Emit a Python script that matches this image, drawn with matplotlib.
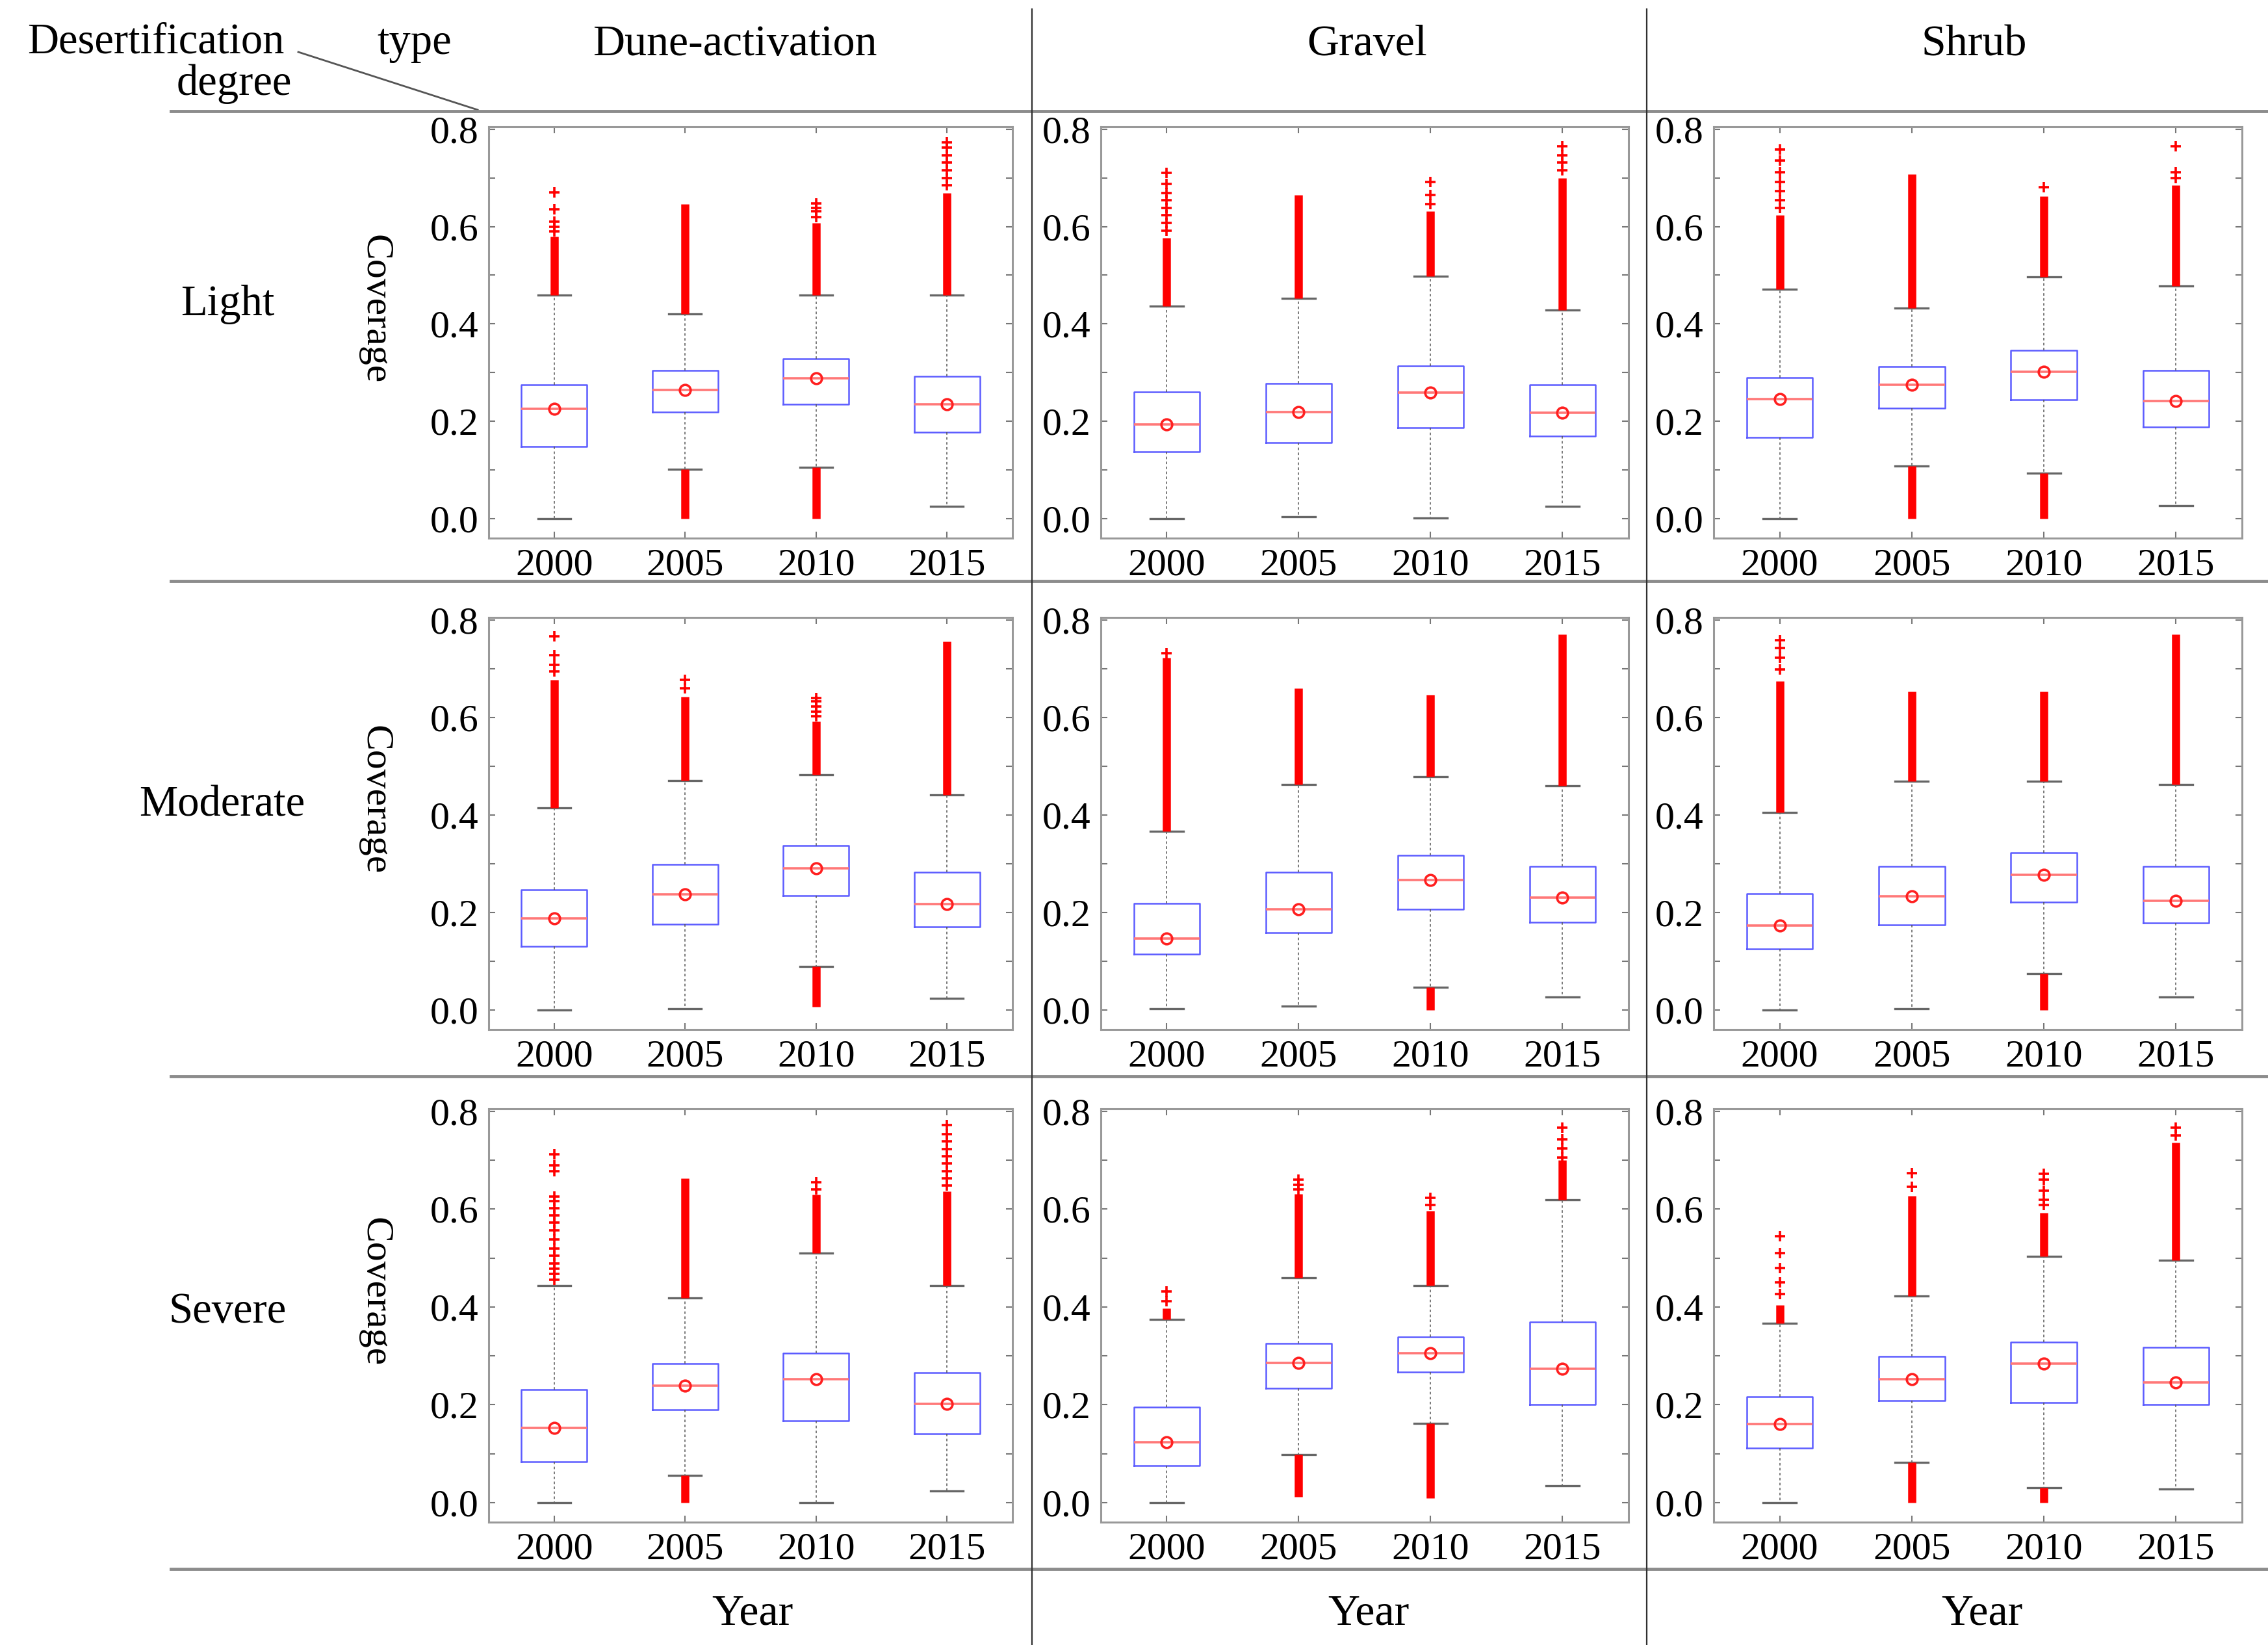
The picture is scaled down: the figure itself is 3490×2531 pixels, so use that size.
import matplotlib
matplotlib.use('Agg')
import matplotlib.pyplot as plt
from matplotlib.lines import Line2D

plt.rcParams['font.family'] = ['Liberation Serif', 'DejaVu Serif']

W, H = 3491, 2531

types = ['Dune-activation', 'Gravel', 'Shrub']
degrees = ['Light', 'Moderate', 'Severe']
years = ['2000', '2005', '2010', '2015']

# every table below is [degree][type][year]
q1 = [
    [[0.148, 0.219, 0.235, 0.177], [0.137, 0.156, 0.187, 0.169], [0.167, 0.227, 0.244, 0.188]],
    [[0.131, 0.176, 0.235, 0.171], [0.115, 0.159, 0.207, 0.180], [0.125, 0.174, 0.221, 0.178]],
    [[0.083, 0.190, 0.167, 0.141], [0.075, 0.234, 0.267, 0.200], [0.111, 0.209, 0.205, 0.200]],
]
q3 = [
    [[0.275, 0.304, 0.328, 0.292], [0.260, 0.278, 0.314, 0.275], [0.290, 0.312, 0.346, 0.305]],
    [[0.246, 0.298, 0.337, 0.282], [0.219, 0.282, 0.317, 0.295], [0.239, 0.295, 0.323, 0.295]],
    [[0.231, 0.284, 0.306, 0.266], [0.195, 0.326, 0.339, 0.369], [0.216, 0.299, 0.328, 0.318]],
]
med = [
    [[0.225, 0.265, 0.288, 0.235], [0.194, 0.219, 0.259, 0.218], [0.246, 0.275, 0.302, 0.241]],
    [[0.188, 0.237, 0.291, 0.217], [0.147, 0.207, 0.267, 0.231], [0.173, 0.233, 0.277, 0.224]],
    [[0.152, 0.239, 0.252, 0.202], [0.124, 0.285, 0.306, 0.273], [0.160, 0.252, 0.284, 0.246]],
]
# the mean markers sit on the median lines
mean = med
whislo = [
    [[0.000, 0.102, 0.105, 0.025], [0.000, 0.004, 0.002, 0.025], [0.000, 0.108, 0.094, 0.027]],
    [[0.000, 0.003, 0.089, 0.024], [0.003, 0.008, 0.047, 0.027], [0.000, 0.003, 0.075, 0.026]],
    [[0.000, 0.056, 0.000, 0.024], [0.000, 0.098, 0.162, 0.034], [0.000, 0.082, 0.030, 0.028]],
]
whishi = [
    [[0.459, 0.421, 0.459, 0.459], [0.436, 0.452, 0.498, 0.429], [0.471, 0.433, 0.496, 0.478]],
    [[0.414, 0.471, 0.482, 0.441], [0.366, 0.463, 0.479, 0.460], [0.405, 0.469, 0.469, 0.463]],
    [[0.444, 0.418, 0.510, 0.444], [0.374, 0.460, 0.444, 0.619], [0.367, 0.423, 0.504, 0.495]],
]
# top of the solid run of outliers above the upper whisker (None = no solid run)
dense_top = [
    [[0.580, 0.646, 0.608, 0.669], [0.577, 0.665, 0.631, 0.700], [0.623, 0.708, 0.662, 0.685]],
    [[0.677, 0.643, 0.592, 0.756], [0.722, 0.660, 0.646, 0.770], [0.674, 0.653, 0.653, 0.770]],
    [[None, 0.663, 0.629, 0.636], [0.397, 0.631, 0.596, 0.700], [0.404, 0.627, 0.593, 0.736]],
]
# bottom of the solid run of outliers below the lower whisker (None = none)
dense_bottom = [
    [[None, 0.000, 0.000, None], [None, None, None, None], [None, 0.000, 0.000, None]],
    [[None, None, 0.006, None], [None, None, 0.000, None], [None, None, 0.000, None]],
    [[None, 0.000, None, None], [None, 0.012, 0.009, None], [None, 0.000, 0.000, None]],
]
# separate outliers above the solid run
sparse_fliers = [
    [
        [[0.59, 0.60, 0.61, 0.635, 0.67], [], [0.619, 0.631, 0.638, 0.648],
         [0.685, 0.70, 0.715, 0.731, 0.746, 0.762, 0.773]],
        [[0.592, 0.608, 0.623, 0.638, 0.654, 0.669, 0.688, 0.71], [], [0.646, 0.665, 0.692],
         [0.715, 0.731, 0.746, 0.765]],
        [[0.638, 0.654, 0.673, 0.692, 0.712, 0.735, 0.758], [], [0.681], [0.70, 0.712, 0.765]],
    ],
    [
        [[0.694, 0.708, 0.728, 0.767], [0.66, 0.677], [0.602, 0.612, 0.622, 0.633, 0.64], []],
        [[0.732], [], [], []],
        [[0.698, 0.722, 0.742, 0.759], [], [], []],
    ],
    [
        [[0.456, 0.467, 0.478, 0.489, 0.505, 0.52, 0.538, 0.557, 0.572, 0.587, 0.602, 0.617,
          0.625, 0.678, 0.689, 0.712], [], [0.64, 0.655],
         [0.648, 0.663, 0.678, 0.693, 0.708, 0.723, 0.738, 0.753, 0.772]],
        [[0.412, 0.431], [0.64, 0.65, 0.66], [0.608, 0.623], [0.706, 0.724, 0.743, 0.766]],
        [[0.427, 0.45, 0.48, 0.51, 0.544], [0.645, 0.673], [0.608, 0.619, 0.638, 0.66, 0.672],
         [0.751, 0.766]],
    ],
]

# layout in pixels of the output image
col_lr = [(752, 1558), (1694, 2506), (2637, 3450)]
row_tb = [(195, 828), (950, 1584), (1706, 2342)]

RED = '#ff0000'


def fx(px):
    return px / W


def fy(py):
    return 1 - py / H


fig = plt.figure(figsize=(W / 100, H / 100), dpi=100)

positions = [1, 2, 3, 4]
for r in range(3):
    for c in range(3):
        l, rr = col_lr[c]
        t, b = row_tb[r]
        ax = fig.add_axes([fx(l), fy(b), (rr - l) / W, (b - t) / H])
        stats = []
        for k in range(4):
            stats.append(dict(med=med[r][c][k], q1=q1[r][c][k], q3=q3[r][c][k],
                              whislo=whislo[r][c][k], whishi=whishi[r][c][k],
                              mean=mean[r][c][k], fliers=sparse_fliers[r][c][k]))
        ax.bxp(stats, positions=positions, widths=0.5, showmeans=True,
               boxprops=dict(color='#5c5cff', lw=1.8),
               medianprops=dict(color='#ff7878', lw=2.6),
               meanprops=dict(marker='o', ms=12, mfc='none', mec='#ff2020', mew=2.6),
               whiskerprops=dict(color='#555555', lw=1.1, ls=(0, (2.5, 2.5))),
               capprops=dict(color='#666666', lw=2.4),
               flierprops=dict(marker='+', ms=11, mec=RED, mew=2.6))
        for k, x in enumerate(positions):
            if dense_top[r][c][k] is not None:
                ax.vlines(x, whishi[r][c][k], dense_top[r][c][k], color=RED, lw=9)
            if dense_bottom[r][c][k] is not None:
                ax.vlines(x, dense_bottom[r][c][k], whislo[r][c][k], color=RED, lw=9)

        ax.set_xlim(0.5, 4.5)
        ax.set_ylim(-0.04, 0.805)
        ax.set_xticks(positions, years)
        ax.set_yticks([0.0, 0.2, 0.4, 0.6, 0.8], ['0.0', '0.2', '0.4', '0.6', '0.8'])
        ax.set_yticks([0.1, 0.3, 0.5, 0.7], minor=True)
        ax.tick_params(axis='both', which='both', direction='in', color='#777777',
                       width=1.5, labelsize=43, pad=11)
        ax.tick_params(axis='both', which='major', length=7)
        ax.tick_params(axis='y', which='minor', length=7)
        ax.tick_params(top=True, right=True, which='both')
        for s in ax.spines.values():
            s.set_color('#999999')
            s.set_linewidth(2.2)

        if c == 0:
            fig.text(fx(577), fy((t + b) / 2 - 36), 'Coverage', rotation=270,
                     ha='center', va='center', fontsize=43)

# row labels
row_label_xy = [(350, 485), (342, 1255), (350, 2035)]
for name, (x, y) in zip(degrees, row_label_xy):
    fig.text(fx(x), fy(y), name, ha='center', va='baseline', fontsize=48)

# column headers and bottom axis names
header_x = [1131, 2104, 3038]
year_x = [1158, 2106, 3050]
for name, x in zip(types, header_x):
    fig.text(fx(x), fy(85), name, ha='center', va='baseline', fontsize=49)
for x in year_x:
    fig.text(fx(x), fy(2500), 'Year', ha='center', va='baseline', fontsize=49)

# corner cell
fig.text(fx(240), fy(82), 'Desertification', ha='center', va='baseline', fontsize=48)
fig.text(fx(360), fy(146), 'degree', ha='center', va='baseline', fontsize=48)
fig.text(fx(638), fy(83), 'type', ha='center', va='baseline', fontsize=48)
fig.add_artist(Line2D([fx(459), fx(735)], [fy(80), fy(169)], transform=fig.transFigure,
                      color='#555555', lw=2))

# table rules
for y in [171, 894, 1656, 2414]:
    fig.add_artist(Line2D([fx(263), fx(3491)], [fy(y), fy(y)], transform=fig.transFigure,
                          color='#8c8c8c', lw=3.5))
for x in [1588, 2534]:
    fig.add_artist(Line2D([fx(x), fx(x)], [fy(14), fy(2531)], transform=fig.transFigure,
                          color='#303030', lw=1.6))

fig.savefig('out.png', dpi=100)
